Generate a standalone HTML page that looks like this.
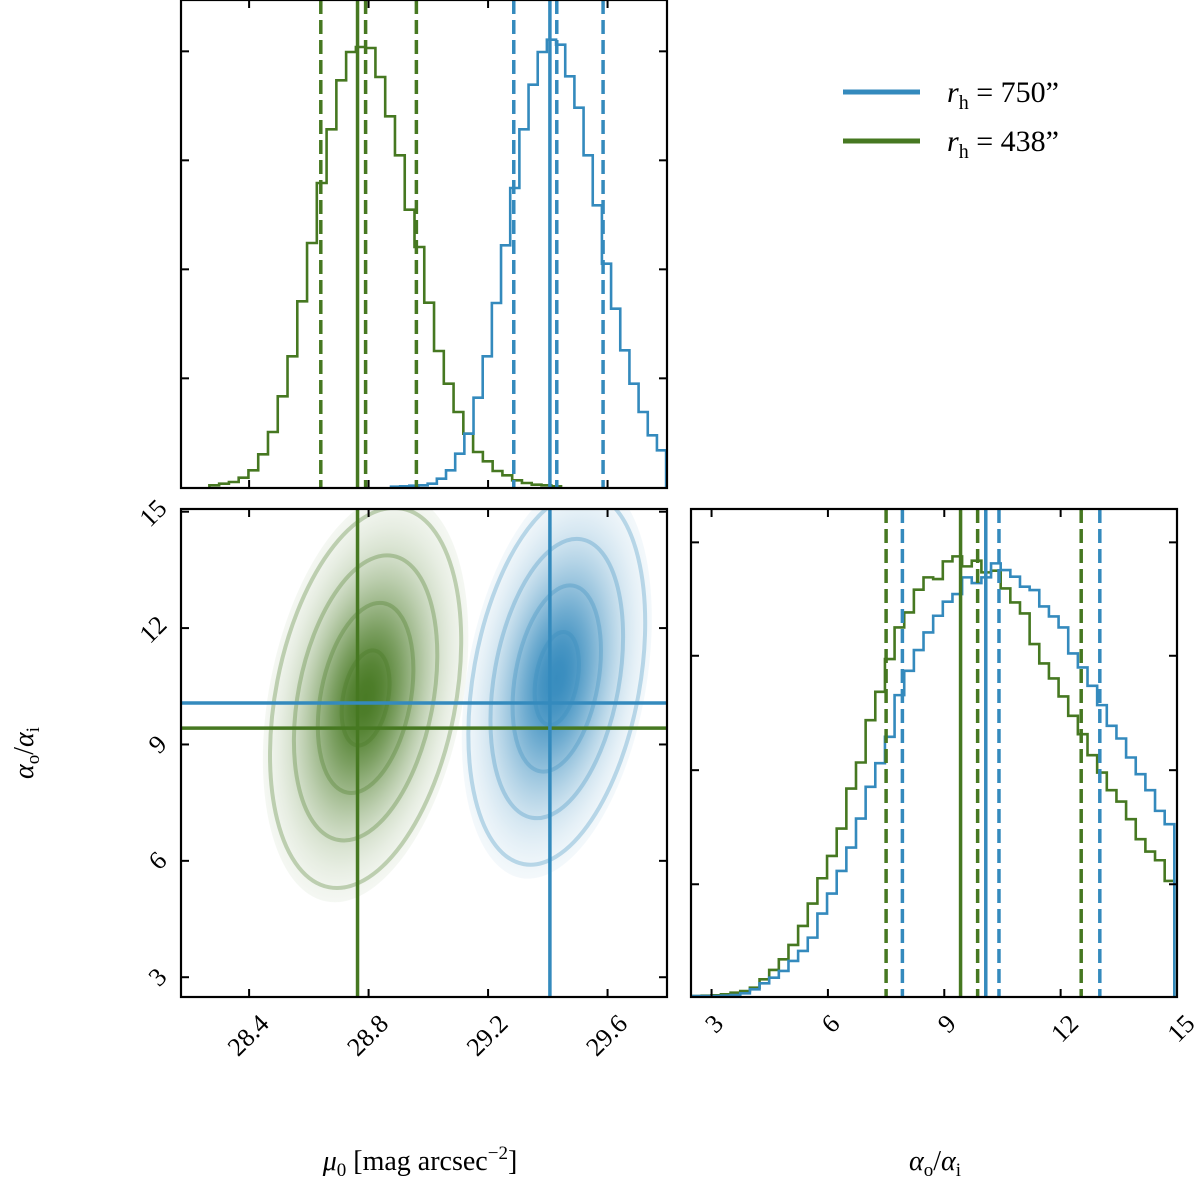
<!DOCTYPE html>
<html><head><meta charset="utf-8"><style>
html,body{margin:0;padding:0;background:#fff}
svg{display:block;font-family:"Liberation Serif",serif}
</style></head><body>
<svg id="fig" width="1200" height="1182" viewBox="0 0 1200 1182" xmlns="http://www.w3.org/2000/svg">
<defs>
<clipPath id="cTop"><rect x="181" y="0" width="486" height="488"/></clipPath>
<clipPath id="c2d"><rect x="181" y="509" width="486" height="488"/></clipPath>
<clipPath id="cR"><rect x="691" y="509" width="486" height="488"/></clipPath>
</defs>
<g id="gTop" clip-path="url(#cTop)"></g>
<g id="g2d" clip-path="url(#c2d)"></g>
<g id="gR" clip-path="url(#cR)"></g>
<g id="gAxes"></g>
<text x="420" y="1170" font-size="28" text-anchor="middle"><tspan font-style="italic">μ</tspan><tspan font-size="19" dy="6">0</tspan><tspan dy="-6"> [mag arcsec</tspan><tspan font-size="19" dy="-11">−2</tspan><tspan dy="11">]</tspan></text>
<text x="935" y="1170" font-size="28" text-anchor="middle"><tspan font-style="italic">α</tspan><tspan font-size="19" dy="6">o</tspan><tspan dy="-6">/</tspan><tspan font-style="italic">α</tspan><tspan font-size="19" dy="6">i</tspan></text>
<text transform="translate(33,753) rotate(-90)" font-size="28" text-anchor="middle"><tspan font-style="italic">α</tspan><tspan font-size="19" dy="6">o</tspan><tspan dy="-6">/</tspan><tspan font-style="italic">α</tspan><tspan font-size="19" dy="6">i</tspan></text>
<g>
<line x1="843" y1="92" x2="920" y2="92" stroke="#348ABD" stroke-width="5"/>
<text x="947" y="102" font-size="30"><tspan font-style="italic">r</tspan><tspan font-size="20" dy="7">h</tspan><tspan dy="-7"> = 750”</tspan></text>
<line x1="843" y1="141" x2="920" y2="141" stroke="#467821" stroke-width="5"/>
<text x="947" y="151" font-size="30"><tspan font-style="italic">r</tspan><tspan font-size="20" dy="7">h</tspan><tspan dy="-7"> = 438”</tspan></text>
</g>
</svg>
<script>
// ---- data ----
const muTicks = [28.4, 28.8, 29.2, 29.6];
const muTickLabels = ["28.4", "28.8", "29.2", "29.6"];
const ratioTicks = [3, 6, 9, 12, 15];
const ratioTickLabels = ["3", "6", "9", "12", "15"];
const topCountTicks = [326, 653, 980, 1307];
const rightCountTicks = [335, 677, 1020, 1360];

const greenMuStart = 28.267, greenMuWidth = 0.0327;
const greenMuCounts = [5,10,15,28,50,98,165,272,392,557,732,912,1073,1220,1305,1320,1317,1230,1112,995,832,720,553,408,310,225,160,105,77,48,35,20,12,7,5,2];
const blueMuStart = 28.875, blueMuWidth = 0.0307;
const blueMuCounts = [1,2,4,5,10,25,50,100,160,268,392,552,725,897,1073,1207,1305,1342,1327,1232,1138,995,845,670,535,410,310,225,155,110];

const greenRatioStart = 2.496, greenRatioWidth = 0.2487;
const greenRatioCounts = [0,1,2,5,10,15,25,50,78,110,153,210,277,353,420,502,622,700,827,912,1010,1105,1150,1218,1255,1250,1303,1318,1288,1305,1270,1275,1222,1180,1147,1055,997,952,898,840,785,722,670,617,583,530,470,433,407,345];
const blueRatioStart = 2.496, blueRatioWidth = 0.2487;
const blueRatioCounts = [0,0,0,1,3,8,20,38,55,75,105,135,175,247,307,375,445,532,627,698,777,902,975,1037,1090,1140,1182,1205,1255,1238,1255,1297,1277,1257,1227,1217,1168,1138,1105,1027,985,930,872,810,772,715,665,617,555,515];

const greenMuQuantiles = [28.64, 28.79, 28.96];
const blueMuQuantiles = [29.286, 29.43, 29.585];
const greenRatioQuantiles = [7.5, 9.86, 12.53];
const blueRatioQuantiles = [7.92, 10.41, 13.01];
const greenTruth = [28.763, 9.42];
const blueTruth = [29.407, 10.07];

// gaussian summaries of joint density: [meanMu, meanRatio, sdMu, sdRatio, rho]
const greenJoint = [28.79, 10.2, 0.16, 2.45, 0.3];
const blueJoint = [29.43, 10.7, 0.148, 2.4, 0.3];
const contourLevels = [0.5, 1, 1.5, 2];

// ---- scales ----
const lin = (d0,d1,r0,r1) => v => r0 + (v-d0)*(r1-r0)/(d1-d0);
const xMu = lin(28.172, 29.799, 181, 667);
const yTop = lin(0, 1461, 487, 0);
const yRatio = lin(2.49, 15.07, 997, 509);
const xRatio = lin(2.47, 15.0, 691, 1177);
const yRight = lin(0, 1460, 996, 509);
const NS = "http://www.w3.org/2000/svg";
const GREEN = "#467821", BLUE = "#348ABD";
function mk(tag, attrs, parent){ const e=document.createElementNS(NS,tag); for(const k in attrs) e.setAttribute(k,attrs[k]); parent.appendChild(e); return e; }

function stepPath(start, width, counts, xs, ys){
  let d = "M"+xs(start)+","+ys(0);
  counts.forEach((c,i)=>{ const x0=xs(start+i*width), x1=xs(start+(i+1)*width); d+=" L"+x0+","+ys(c)+" L"+x1+","+ys(c); });
  d += " L"+xs(start+counts.length*width)+","+ys(0);
  return d;
}

const gTop = document.getElementById("gTop");
const g2d = document.getElementById("g2d");
const gR = document.getElementById("gR");
const gAxes = document.getElementById("gAxes");

// top histogram
let p = mk("path",{d:stepPath(greenMuStart,greenMuWidth,greenMuCounts,xMu,yTop),fill:"none",stroke:GREEN,"stroke-width":2.6},gTop);


p = mk("path",{d:stepPath(blueMuStart,blueMuWidth,blueMuCounts,xMu,yTop),fill:"none",stroke:BLUE,"stroke-width":2.6},gTop);


function vlines(g, qs, truth, color, xs, y0, y1, nm){
  qs.forEach((q,i)=>{ const l=mk("line",{x1:xs(q),x2:xs(q),y1:y0,y2:y1,stroke:color,"stroke-width":3.5,"stroke-dasharray":"14,6"},g);
    
     });
  const l=mk("line",{x1:xs(truth),x2:xs(truth),y1:y0,y2:y1,stroke:color,"stroke-width":3.5},g);
  
  
}
vlines(gTop, greenMuQuantiles, greenTruth[0], GREEN, xMu, 0, 488, "green-mu0");
vlines(gTop, blueMuQuantiles, blueTruth[0], BLUE, xMu, 0, 488, "blue-mu0");

// right histogram
p = mk("path",{d:stepPath(greenRatioStart,greenRatioWidth,greenRatioCounts,xRatio,yRight),fill:"none",stroke:GREEN,"stroke-width":2.6},gR);


p = mk("path",{d:stepPath(blueRatioStart,blueRatioWidth,blueRatioCounts,xRatio,yRight),fill:"none",stroke:BLUE,"stroke-width":2.6},gR);


vlines(gR, greenRatioQuantiles, greenTruth[1], GREEN, xRatio, 509, 997, "green-ratio");
vlines(gR, blueRatioQuantiles, blueTruth[1], BLUE, xRatio, 509, 997, "blue-ratio");

// joint density
const defs = document.querySelector("defs");
function density(j, color, id){
  const [m1,m2,s1,s2,rho]=j;
  const kx = xMu(1)-xMu(0), ky = yRatio(0)-yRatio(1);
  const a=(s1*kx)**2, c=(s2*ky)**2, b=-rho*s1*kx*s2*ky;
  const ang = 0.5*Math.atan2(2*b, a-c)*180/Math.PI;
  const mid=(a+c)/2, rad=Math.sqrt(((a-c)/2)**2+b*b);
  const l1=Math.sqrt(mid+rad), l2=Math.sqrt(mid-rad);
  const cx=xMu(m1), cy=yRatio(m2);
  const R=2.15;
  const grad=mk("radialGradient",{id:id},defs);
  for(let i=0;i<=12;i++){ const t=i/12, r=R*t; mk("stop",{offset:t,"stop-color":color,"stop-opacity":(0.98*Math.exp(-r*r/1.6)).toFixed(3)},grad); }
  const e=mk("ellipse",{cx:cx,cy:cy,rx:R*l1,ry:R*l2,fill:"url(#"+id+")",transform:"rotate("+ang+" "+cx+" "+cy+")"},g2d);
  
  
  contourLevels.forEach((lv,i)=>{
    const ce=mk("ellipse",{cx:cx,cy:cy,rx:lv*l1,ry:lv*l2,fill:"none",stroke:color,"stroke-opacity":0.3,"stroke-width":4,transform:"rotate("+ang+" "+cx+" "+cy+")"},g2d);
    
    
  });
}
density(greenJoint, GREEN, "green-joint");
density(blueJoint, BLUE, "blue-joint");
function cross(t,color,nm){
  let l=mk("line",{x1:xMu(t[0]),x2:xMu(t[0]),y1:509,y2:997,stroke:color,"stroke-width":3.5},g2d);
  
  
  l=mk("line",{x1:181,x2:667,y1:yRatio(t[1]),y2:yRatio(t[1]),stroke:color,"stroke-width":3.5},g2d);
  
  
}
cross(greenTruth, GREEN, "green-median");
cross(blueTruth, BLUE, "blue-median");

// axes frames and ticks
function frame(x,y,w,h,nm){
  const r=mk("rect",{x:x,y:y,width:w,height:h,fill:"none",stroke:"#000","stroke-width":2.2},gAxes);
  
  
}
frame(181,0,486,488,"top-panel-frame");
frame(181,509,486,488,"joint-panel-frame");
frame(691,509,486,488,"right-panel-frame");
function tick(x1,y1,x2,y2){ const t=mk("line",{x1:x1,y1:y1,x2:x2,y2:y2,stroke:"#000","stroke-width":2},gAxes);
  
   }
const TL=8;
muTicks.forEach(v=>{ const x=xMu(v); tick(x,0,x,TL); tick(x,488,x,488-TL); tick(x,509,x,509+TL); tick(x,997,x,997-TL); });
topCountTicks.forEach(v=>{ const y=yTop(v); tick(181,y,181+TL,y); tick(667,y,667-TL,y); });
ratioTicks.forEach(v=>{ const y=yRatio(v); tick(181,y,181+TL,y); tick(667,y,667-TL,y);
  const x=xRatio(v); tick(x,509,x,509+TL); tick(x,997,x,997-TL); });
rightCountTicks.forEach(v=>{ const y=yRight(v); tick(691,y,691+TL,y); tick(1177,y,1177-TL,y); });
function label(x,y,s,nm){
  const t=mk("text",{x:x,y:y,"font-size":26,"text-anchor":"end","dominant-baseline":"middle",transform:"rotate(-45 "+x+" "+y+")"},gAxes);
  t.textContent=s;
  
  
}
muTicks.forEach((v,i)=>label(xMu(v)+17,1021,muTickLabels[i],'x-tick-label-mu0'));
ratioTicks.forEach((v,i)=>label(xRatio(v)+(ratioTickLabels[i].length>1?15:9),1021,ratioTickLabels[i],'x-tick-label-ratio'));
ratioTicks.forEach((v,i)=>label(164,yRatio(v)-(ratioTickLabels[i].length>1?6:3),ratioTickLabels[i],'y-tick-label-ratio'));
</script>
</body></html>
